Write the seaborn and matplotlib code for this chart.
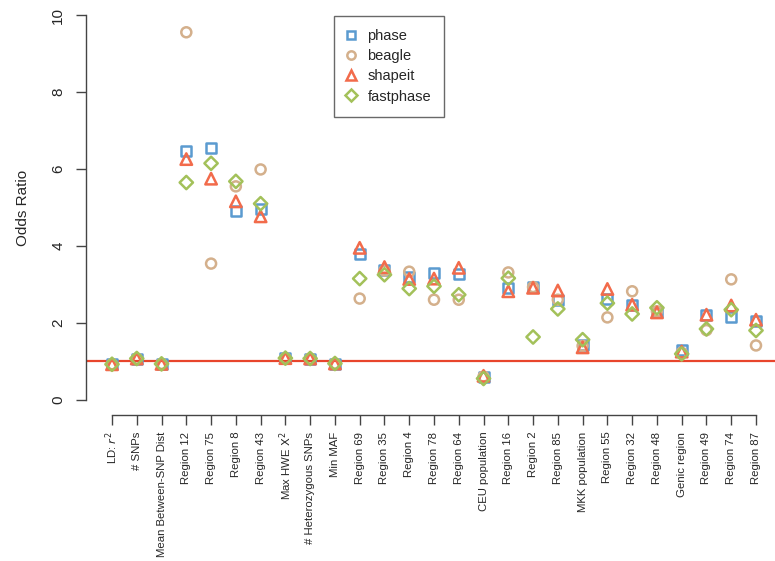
import matplotlib
matplotlib.use("Agg")
import matplotlib.pyplot as plt
from matplotlib.lines import Line2D
import seaborn as sns
import pandas as pd

sns.set_style("white")
plt.rcParams["font.family"] = ["Liberation Sans", "DejaVu Sans"]

categories = [
    "LD: $r^2$", "# SNPs", "Mean Between-SNP Dist", "Region 12", "Region 75",
    "Region 8", "Region 43", "Max HWE $\\mathrm{X}^2$", "# Heterozygous SNPs",
    "Min MAF", "Region 69", "Region 35", "Region 4", "Region 78", "Region 64",
    "CEU population", "Region 16", "Region 2", "Region 85", "MKK population",
    "Region 55", "Region 32", "Region 48", "Genic region", "Region 49",
    "Region 74", "Region 87",
]

phase = [0.92, 1.07, 0.93, 6.46, 6.54, 4.92, 4.97, 1.08, 1.07, 0.94,
         3.80, 3.38, 3.18, 3.30, 3.28, 0.58, 2.90, 2.94, 2.58, 1.41,
         2.62, 2.45, 2.29, 1.29, 2.19, 2.16, 2.04]
beagle = [0.92, 1.07, 0.93, 9.56, 3.54, 5.55, 5.99, 1.08, 1.07, 0.94,
          2.63, 3.36, 3.33, 2.60, 2.60, 0.60, 3.31, 2.93, 2.60, 1.40,
          2.14, 2.82, 2.30, 1.22, 1.81, 3.13, 1.41]
shapeit = [0.92, 1.07, 0.93, 6.26, 5.75, 5.16, 4.77, 1.08, 1.07, 0.94,
           3.95, 3.45, 3.14, 3.15, 3.43, 0.62, 2.82, 2.91, 2.84, 1.36,
           2.88, 2.47, 2.27, 1.25, 2.21, 2.45, 2.08]
fastphase = [0.92, 1.07, 0.93, 5.65, 6.15, 5.68, 5.10, 1.08, 1.07, 0.94,
             3.15, 3.25, 2.89, 2.95, 2.73, 0.55, 3.16, 1.63, 2.36, 1.56,
             2.51, 2.23, 2.39, 1.19, 1.84, 2.34, 1.80]

series = {"phase": phase, "beagle": beagle, "shapeit": shapeit, "fastphase": fastphase}
colors = {"phase": "#5b9bd0", "beagle": "#d4b08c", "shapeit": "#f26b4b", "fastphase": "#a3c15a"}
markers = {"phase": "s", "beagle": "o", "shapeit": "^", "fastphase": "D"}
sizes = {"phase": 52, "beagle": 52, "shapeit": 68, "fastphase": 46}

W, H = 775, 561
ax_left, ax_bottom_px = 86, 415

fig = plt.figure(figsize=(W / 100, H / 100), dpi=100)
ax = fig.add_axes([ax_left / W, 1 - ax_bottom_px / H, 1 - ax_left / W, ax_bottom_px / H])

pos = list(range(1, len(categories) + 1))
for name, vals in series.items():
    df = pd.DataFrame({"x": pos, "y": vals})
    sns.scatterplot(data=df, x="x", y="y", ax=ax, marker=markers[name],
                    s=sizes[name], fc="none", ec=colors[name], linewidth=1.8,
                    zorder=3)

ax.axhline(1, color="#e8452c", lw=1.6, zorder=2)

# one category step is about 24.77 px; first tick sits 26 px right of the axis
step = (756 - 112) / 26
ax.set_xlim(1 - (112 - ax_left) / step, 1 + (W - 112) / step)
ax.set_ylim(-0.4, 10.4)
ax.set_xticks(pos)
ax.set_xticklabels(categories, rotation=90, fontsize=8.2)
ax.set_yticks([0, 2, 4, 6, 8, 10])
ax.set_yticklabels(["0", "2", "4", "6", "8", "10"], rotation=90, va="center", fontsize=11)
ax.set_xlabel("")
ax.set_ylabel("Odds Ratio", fontsize=11, labelpad=15)

for s in ["top", "right"]:
    ax.spines[s].set_visible(False)
for s in ["left", "bottom"]:
    ax.spines[s].set_color("#444444")
    ax.spines[s].set_linewidth(1.0)
ax.spines["left"].set_bounds(0, 10)
ax.spines["bottom"].set_bounds(1, 27)
ax.tick_params(axis="both", which="both", direction="out", length=7,
               width=1.0, color="#444444", left=True, bottom=True)
ax.tick_params(axis="y", pad=8)
ax.tick_params(axis="x", pad=5)
ax.grid(False)

handles = [Line2D([], [], linestyle="none", marker=markers[n], markersize=6 if n != "shapeit" else 7,
                  markerfacecolor="none", markeredgecolor=colors[n], markeredgewidth=1.8)
           for n in series]
leg = ax.legend(handles, list(series.keys()), loc="upper left",
                bbox_to_anchor=((334 - ax_left) / (W - ax_left), 1 - 16 / ax_bottom_px),
                frameon=True, fancybox=False, fontsize=10.5, handletextpad=0.9,
                borderpad=0.9, labelspacing=0.42, handlelength=0.5, borderaxespad=0)
leg.get_frame().set_edgecolor("#444444")
leg.get_frame().set_linewidth(1.0)

fig.savefig("out.png", dpi=100)
